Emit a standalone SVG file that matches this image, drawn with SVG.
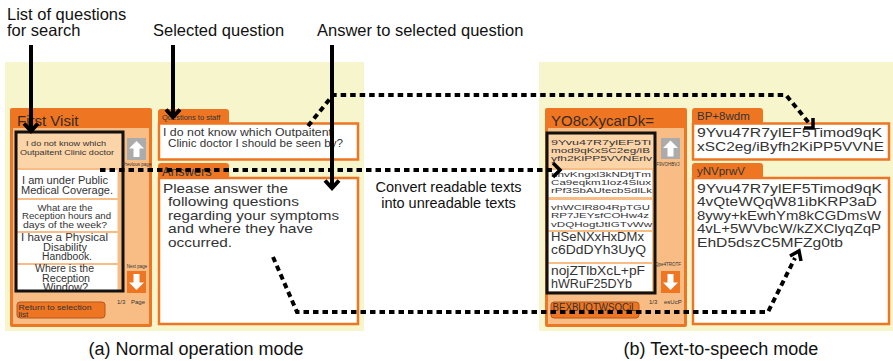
<svg xmlns="http://www.w3.org/2000/svg" width="893" height="361" viewBox="0 0 893 361">
<defs>
<style>
.bg{fill:#F7F5CC}
.or{fill:#EE7623}
.pch{fill:#F8BD85}
.hl{fill:#FBD4A8}
.cell{fill:#fff}
.box{fill:#fff;stroke:#EE7623;stroke-width:2.5}
.blk{fill:none;stroke:#111;stroke-width:3}
.gbtn{fill:#ABABAB}
.obtn{fill:#EE7623}
.ret{fill:#EE7623;stroke:#B6561A;stroke-width:1}
text{font-family:"Liberation Sans",Arial,sans-serif}
.ann{font-size:16.5px;fill:#111}
.cap{font-size:18px;fill:#111}
.hd{font-size:15px;fill:#3a2a20}
.t{fill:#333}
.tiny{font-size:4.5px;fill:#333}
.sm{font-size:6px;fill:#333}
.dash{fill:none;stroke:#000;stroke-width:4;stroke-dasharray:5.5 4}
.head{fill:none;stroke:#000;stroke-width:3.5}
.arr{fill:none;stroke:#000;stroke-width:4}
</style>
<path id="up" d="M0,-8 L7.5,-0.5 H3 V8 H-3 V-0.5 H-7.5 Z" fill="#fff"/>
<clipPath id="ca"><rect x="17" y="133" width="105" height="157"/></clipPath>
<clipPath id="cb"><rect x="548" y="134" width="106" height="158"/></clipPath>
</defs>

<g id="panel-a">
<rect class="bg" x="5" y="62" width="359" height="269"/>
<g id="list-panel-a">
<rect class="or" x="10" y="108" width="142" height="219" rx="2"/>
<rect class="pch" x="13" y="128" width="136" height="196"/>
<text class="hd" x="17" y="125.5">First Visit</text>
<rect class="hl" x="17.5" y="133.5" width="104" height="34.5"/>
<rect class="cell" x="17.5" y="170" width="100" height="28"/>
<rect class="cell" x="17.5" y="200" width="100" height="31"/>
<rect class="cell" x="17.5" y="233" width="100" height="30"/>
<rect class="cell" x="17.5" y="265" width="100" height="26"/>
<g clip-path="url(#ca)" class="t" text-anchor="middle">
<text x="66" y="146" font-size="8" textLength="80" lengthAdjust="spacingAndGlyphs">I do not know which</text>
<text x="67" y="154.5" font-size="8" textLength="94" lengthAdjust="spacingAndGlyphs">Outpaitent Clinic doctor</text>
<text x="65" y="184" font-size="10" textLength="86" lengthAdjust="spacingAndGlyphs">I am under Public</text>
<text x="67" y="193.5" font-size="10" textLength="92" lengthAdjust="spacingAndGlyphs">Medical Coverage.</text>
<text x="65" y="210.5" font-size="8.6" textLength="55" lengthAdjust="spacingAndGlyphs">What are the</text>
<text x="66.5" y="219.3" font-size="8.6" textLength="89" lengthAdjust="spacingAndGlyphs">Reception hours and</text>
<text x="65" y="228" font-size="8.6" textLength="84" lengthAdjust="spacingAndGlyphs">days of the week?</text>
<text x="64.5" y="241" font-size="10" textLength="87" lengthAdjust="spacingAndGlyphs">I have a Physical</text>
<text x="65" y="250.5" font-size="10" textLength="44" lengthAdjust="spacingAndGlyphs">Disability</text>
<text x="67" y="260" font-size="10" textLength="50" lengthAdjust="spacingAndGlyphs">Handbook.</text>
<text x="64.5" y="272" font-size="10" textLength="59" lengthAdjust="spacingAndGlyphs">Where is the</text>
<text x="66" y="281.5" font-size="10" textLength="48" lengthAdjust="spacingAndGlyphs">Reception</text>
<text x="65.5" y="291" font-size="10" textLength="45" lengthAdjust="spacingAndGlyphs">Window?</text>
</g>
<rect class="blk" x="16" y="132" width="107" height="159"/>
<rect class="gbtn" x="127" y="138" width="19" height="22"/>
<use href="#up" x="136.5" y="149"/>
<text class="tiny" x="137" y="166" text-anchor="middle">Previous page</text>
<text class="tiny" x="137" y="268" text-anchor="middle">Next page</text>
<rect class="obtn" x="127" y="271" width="19" height="22"/>
<use href="#up" transform="translate(136.5,282) rotate(180)"/>
<text class="sm" x="117" y="304">1/3</text>
<text class="sm" x="131" y="304">Page</text>
<rect class="ret" x="17" y="302" width="88" height="16" rx="3"/>
<text class="t" x="18.5" y="309.5" font-size="8" textLength="73" lengthAdjust="spacingAndGlyphs">Return to selection</text>
<text class="t" x="18.5" y="317" font-size="8">list</text>
</g>
<g id="question-box-a">
<rect class="or" x="158" y="109" width="71" height="16" rx="3"/>
<text class="t" x="162" y="119.5" font-size="7.5">Questions to staff</text>
<rect class="box" x="159" y="123.5" width="199" height="36"/>
<text class="t" x="163" y="136" font-size="10.2" textLength="169" lengthAdjust="spacingAndGlyphs">I do not know which Outpaitent</text>
<text class="t" x="168" y="147" font-size="10.2" textLength="175" lengthAdjust="spacingAndGlyphs">Clinic doctor I should be seen by?</text>
</g>
<g id="answer-box-a">
<rect class="or" x="158" y="163" width="71" height="16" rx="3"/>
<text class="t" x="162" y="176" font-size="13">Answers</text>
<rect class="box" x="159" y="178" width="199" height="146"/>
<g class="t" font-size="13.2">
<text x="163" y="192.5" textLength="125" lengthAdjust="spacingAndGlyphs">Please answer the</text>
<text x="168" y="206" textLength="131" lengthAdjust="spacingAndGlyphs">following questions</text>
<text x="168" y="219.5" textLength="171" lengthAdjust="spacingAndGlyphs">regarding your symptoms</text>
<text x="168" y="233" textLength="145" lengthAdjust="spacingAndGlyphs">and where they have</text>
<text x="168" y="246.5" textLength="64" lengthAdjust="spacingAndGlyphs">occurred.</text>
</g>
</g>
</g>

<g id="panel-b">
<rect class="bg" x="539" y="62" width="354" height="269"/>
<g id="list-panel-b">
<rect class="or" x="545" y="108" width="142" height="219" rx="2"/>
<rect class="pch" x="548" y="128" width="136" height="196"/>
<text class="hd" x="551" y="125.5">YO8cXycarDk=</text>
<rect class="hl" x="548.5" y="134.5" width="105" height="33.5"/>
<rect class="cell" x="548.5" y="170" width="103.5" height="27"/>
<rect class="cell" x="548.5" y="200" width="103.5" height="30"/>
<rect class="cell" x="548.5" y="232" width="103.5" height="30"/>
<rect class="cell" x="548.5" y="264" width="103.5" height="27"/>
<g clip-path="url(#cb)" class="t">
<text x="551" y="145" font-size="8" textLength="100" lengthAdjust="spacingAndGlyphs">9Yvu47R7ylEF5Ti</text>
<text x="551" y="153" font-size="8" textLength="99" lengthAdjust="spacingAndGlyphs">mod9qKxSC2eg/iB</text>
<text x="551" y="161" font-size="8" textLength="101" lengthAdjust="spacingAndGlyphs">yfh2KiPP5VVNErlv</text>
<text x="551" y="176.5" font-size="8" textLength="100" lengthAdjust="spacingAndGlyphs">nhvKngxl3kNDtjTm</text>
<text x="551" y="184.5" font-size="8" textLength="100" lengthAdjust="spacingAndGlyphs">Ca9eqkm1loz4Siux</text>
<text x="551" y="192.5" font-size="8" textLength="101" lengthAdjust="spacingAndGlyphs">rPf3SbAUtecbSdlLk</text>
<text x="551" y="209.5" font-size="8" textLength="99" lengthAdjust="spacingAndGlyphs">vhWClR804RpTGU</text>
<text x="551" y="218" font-size="8" textLength="98" lengthAdjust="spacingAndGlyphs">RP7JEYsfCOHw4z</text>
<text x="551" y="226.5" font-size="8" textLength="101" lengthAdjust="spacingAndGlyphs">vDQHogtJtIGTvWw</text>
<text x="551" y="241" font-size="12" textLength="93" lengthAdjust="spacingAndGlyphs">HSeNXxHxDMx</text>
<text x="551" y="254" font-size="12" textLength="95" lengthAdjust="spacingAndGlyphs">c6DdDYh3UyQ</text>
<text x="551" y="275" font-size="12" textLength="94" lengthAdjust="spacingAndGlyphs">nojZTlbXcL+pF</text>
<text x="551" y="288" font-size="12" textLength="81" lengthAdjust="spacingAndGlyphs">hWRuF25DYb</text>
</g>
<rect class="blk" x="547" y="133" width="108" height="160"/>
<rect class="gbtn" x="661" y="138" width="19" height="21"/>
<use href="#up" x="670.5" y="148.5"/>
<text class="tiny" x="668" y="166" text-anchor="middle">F9VOHBVJ</text>
<text class="tiny" x="668" y="266" text-anchor="middle">Qpe4TROTF</text>
<rect class="obtn" x="661" y="271" width="19" height="22"/>
<use href="#up" transform="translate(670.5,282) rotate(180)"/>
<text class="sm" x="649" y="304">1/3</text>
<text class="sm" x="664" y="304">esUcP</text>
<rect class="ret" x="551" y="302" width="88" height="16" rx="3"/>
<text class="t" x="552.5" y="311" font-size="10" textLength="84" lengthAdjust="spacingAndGlyphs">BEXBUOTWSOCjL</text>
</g>
<g id="question-box-b">
<rect class="or" x="692" y="108" width="71" height="16" rx="3"/>
<text class="t" x="697" y="120" font-size="11.5">BP+8wdm</text>
<rect class="box" x="693" y="123.5" width="196" height="36"/>
<text class="t" x="697" y="137" font-size="12.5" textLength="185" lengthAdjust="spacingAndGlyphs">9Yvu47R7ylEF5Timod9qK</text>
<text class="t" x="697" y="151" font-size="12.5" textLength="187" lengthAdjust="spacingAndGlyphs">xSC2eg/iByfh2KiPP5VVNE</text>
</g>
<g id="answer-box-b">
<rect class="or" x="692" y="163" width="71" height="16" rx="3"/>
<text class="t" x="697" y="174.5" font-size="11.5">yNVprwV</text>
<rect class="box" x="693" y="178" width="196" height="146"/>
<g class="t" font-size="13.2">
<text x="697" y="192.5" textLength="185" lengthAdjust="spacingAndGlyphs">9Yvu47R7ylEF5Timod9qK</text>
<text x="697" y="206" textLength="180" lengthAdjust="spacingAndGlyphs">4vQteWQqW81ibKRP3aD</text>
<text x="697" y="219.5" textLength="184" lengthAdjust="spacingAndGlyphs">8ywy+kEwhYm8kCGDmsW</text>
<text x="697" y="233" textLength="184" lengthAdjust="spacingAndGlyphs">4vL+5WVbcW/kZXClyqZqP</text>
<text x="697" y="246.5" textLength="146" lengthAdjust="spacingAndGlyphs">EhD5dszC5MFZg0tb</text>
</g>
</g>
</g>

<g id="labels">
<text class="ann" x="7" y="19.5">List of questions</text>
<text class="ann" x="7" y="36">for search</text>
<text class="ann" x="153" y="36">Selected question</text>
<text class="ann" x="317" y="36">Answer to selected question</text>
<text x="448.5" y="192" font-size="14.5" fill="#111" text-anchor="middle">Convert readable texts</text>
<text x="448.5" y="207.5" font-size="14.5" fill="#111" text-anchor="middle">into unreadable texts</text>
<text class="cap" x="196" y="355" text-anchor="middle">(a) Normal operation mode</text>
<text class="cap" x="721" y="355" text-anchor="middle">(b) Text-to-speech mode</text>
</g>

<g id="connectors">
<line class="arr" x1="31" y1="45" x2="31" y2="130"/>
<polyline class="arr" points="24,123.5 31,131 38,123.5"/>
<line class="arr" x1="173" y1="45" x2="173" y2="116"/>
<polyline class="arr" points="166,109.5 173,117 180,109.5"/>
<line class="arr" x1="332" y1="45" x2="332" y2="187"/>
<polyline class="arr" points="325,180.5 332,188 339,180.5"/>
<path class="dash" d="M100,170 H555"/>
<polyline class="head" points="553,163 560,170 553,177"/>
<path class="dash" d="M308,126 L333,95 H786 L809,123"/>
<polyline class="head" points="813,118 813,128 804,128"/>
<path class="dash" d="M273,257 L297,312 H768 L795,258"/>
<polyline class="head" points="790,256 799,251 801,261"/>
</g>
</svg>
